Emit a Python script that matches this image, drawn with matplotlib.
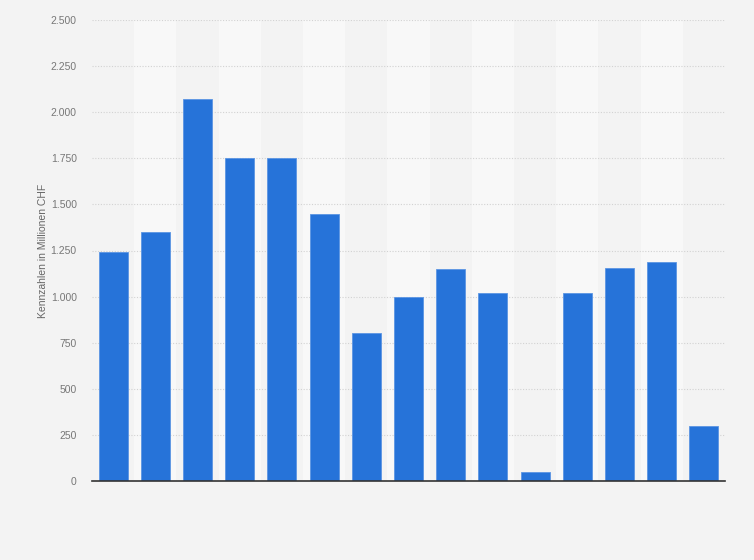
import matplotlib.pyplot as plt
from matplotlib.ticker import FuncFormatter

plt.rcParams['font.family'] = ['Liberation Sans', 'DejaVu Sans']

# values (Mio. CHF), no category labels shown
werte = [1240, 1350, 2070, 1750, 1750, 1450, 800, 1000, 1150, 1020, 50, 1020, 1155, 1190, 300]
y_ticks = [0, 250, 500, 750, 1000, 1250, 1500, 1750, 2000, 2250, 2500]
y_label = "Kennzahlen in Millionen CHF"

fig = plt.figure(figsize=(7.54, 5.6), dpi=100)
fig.patch.set_facecolor('#f3f3f3')
ax = fig.add_axes([92/754, 1-481/560, (725-92)/754, (481-20)/560])
ax.set_facecolor('#f3f3f3')

n = len(werte)
x = list(range(n))
for i in x:
    if i % 2 == 1:
        ax.axvspan(i-0.5, i+0.5, color='#f8f8f8', zorder=0, lw=0)

ax.bar(x, werte, width=0.69, color='#2673d9', edgecolor='#5b95e3', linewidth=0.6, zorder=3)

ax.set_xlim(-0.5, n-0.5)
ax.set_ylim(0, 2500)
ax.set_yticks(y_ticks)
ax.yaxis.set_major_formatter(FuncFormatter(lambda v, p: f"{int(v):,}".replace(',', '.')))
ax.set_xticks([])
ax.tick_params(axis='y', length=0, pad=11, labelsize=7.5, labelcolor='#777777')
ax.grid(axis='y', color='#d2d2d2', linestyle=(0, (1, 1.5)), linewidth=0.8, zorder=1)
for s in ['top', 'right', 'left']:
    ax.spines[s].set_visible(False)
ax.spines['bottom'].set_color('#333333')
ax.spines['bottom'].set_linewidth(1.2)
ax.spines['bottom'].set_zorder(4)

ax.set_ylabel(y_label, fontsize=7.5, color='#666666', labelpad=2)

fig.savefig('out.png', dpi=100, facecolor=fig.get_facecolor())
